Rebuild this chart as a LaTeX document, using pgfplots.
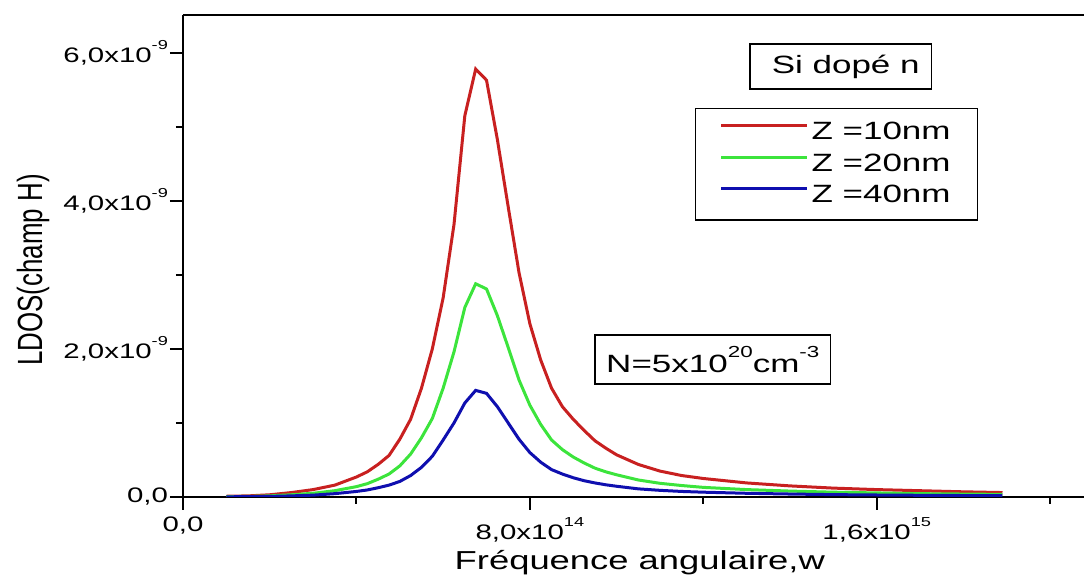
\documentclass[border=0pt]{standalone}
\usepackage{fontspec}
\setmainfont{Liberation Sans}[FakeStretch=1.4]
\newfontfamily\ylabfont{Liberation Sans}[FakeStretch=0.74]
\usepackage{pgfplots}
\usepackage{pgfplotstable}
\pgfplotsset{compat=1.18}
\definecolor{cred}{RGB}{200,32,32}
\definecolor{cgreen}{RGB}{60,228,60}
\definecolor{cblue}{RGB}{15,15,175}
\newcommand{\spt}[1]{\raisebox{0.62em}{\fontsize{6.5}{7}\selectfont #1}}
\newcommand{\spn}[1]{\raisebox{0.6em}{\fontsize{8}{9}\selectfont #1}}

% x in units of 1e14, y in units of 1e-9
\pgfplotstableread{
x     r      g      b
1.0   0.010  0.005  0.003
1.5   0.015  0.008  0.004
2.0   0.030  0.015  0.008
2.5   0.060  0.030  0.015
3.0   0.100  0.050  0.025
3.5   0.160  0.085  0.045
4.0   0.270  0.140  0.075
4.25  0.340  0.180  0.095
4.5   0.440  0.240  0.125
4.75  0.560  0.310  0.160
5.0   0.780  0.420  0.210
5.25  1.050  0.580  0.290
5.5   1.470  0.800  0.400
5.75  2.000  1.060  0.550
6.0   2.690  1.470  0.770
6.25  3.680  1.960  1.000
6.5   5.150  2.560  1.270
6.75  5.780  2.880  1.440
7.0   5.630  2.810  1.400
7.25  4.830  2.450  1.220
7.5   3.920  2.020  1.000
7.75  3.030  1.580  0.780
8.0   2.340  1.240  0.600
8.25  1.850  0.980  0.470
8.5   1.470  0.770  0.370
8.75  1.220  0.640  0.310
9.0   1.050  0.540  0.260
9.25  0.900  0.460  0.220
9.5   0.760  0.390  0.190
9.75  0.660  0.340  0.165
10.0  0.570  0.300  0.145
10.5  0.440  0.230  0.110
11.0  0.350  0.185  0.090
11.5  0.290  0.155  0.075
12.0  0.250  0.130  0.065
13.0  0.190  0.100  0.050
14.0  0.150  0.080  0.040
15.0  0.120  0.065  0.032
16.0  0.100  0.055  0.027
17.0  0.085  0.045  0.023
18.0  0.070  0.040  0.020
18.9  0.060  0.035  0.017
}\datatable

\begin{document}
\begin{tikzpicture}
\useasboundingbox (0,0) rectangle (542pt,289.5pt);
\begin{axis}[
  at={(91.5pt,41pt)}, anchor=south west,
  scale only axis, width=450.5pt, height=241pt,
  xmin=0, xmax=20.78, ymin=0, ymax=6.51,
  axis x line*=box, axis y line*=left,
  xtick pos=bottom, ytick pos=left,
  tick align=outside,
  xtick={0,8,16},
  xticklabels={{0,0},{8,0x10\spt{14}},{1,6x10\spt{15}}},
  minor xtick={4,12,20},
  ytick={0,2,4,6},
  yticklabels={{0,0},{2,0x10\spt{-9}},{4,0x10\spt{-9}},{6,0x10\spt{-9}}},
  minor ytick={1,3,5},
  major tick length=6.5pt, minor tick length=3.5pt,
  every tick/.style={black, line width=1pt},
  axis line style={black, line width=1.2pt},
  ticklabel style={font=\fontsize{10.5}{12}\selectfont},
  yticklabel style={xshift=2.5pt},
  xlabel={Fréquence angulaire,w},
  ylabel={LDOS(champ H)},
  xlabel style={at={(axis description cs:0.507,-0.136)}, anchor=center, font=\fontsize{13}{15}\selectfont},
  ylabel style={at={(axis description cs:-0.1665,0.471)}, anchor=center, font=\ylabfont\fontsize{17.5}{20}\selectfont},
  legend image code/.code={\draw[#1] (0pt,0.35em) -- (43pt,0.35em);},
  legend cell align=left,
  legend style={at={(axis description cs:0.568,0.8077)}, anchor=north west,
    draw=black, line width=0.8pt, font=\fontsize{12.5}{14}\selectfont,
    inner xsep=12pt, inner ysep=5pt, row sep=1.5pt,
    nodes={inner xsep=1.5pt}},
]
\addplot[cred, line width=1.5pt] table[x=x, y=r] {\datatable};
\addlegendentry{Z =10nm}
\addplot[cgreen, line width=1.5pt] table[x=x, y=g] {\datatable};
\addlegendentry{Z =20nm}
\addplot[cblue, line width=1.5pt] table[x=x, y=b] {\datatable};
\addlegendentry{Z =40nm}
\node[draw=black, line width=0.8pt, minimum width=90.85pt, minimum height=22.65pt, inner sep=0pt,
  font=\fontsize{12.5}{14}\selectfont] at (axis description cs:0.730,0.893) {\hspace*{5pt}Si dopé n};
\node[draw=black, line width=0.8pt, minimum width=117.85pt, minimum height=24.65pt, inner sep=0pt,
  font=\fontsize{12.5}{14}\selectfont] at (axis description cs:0.588,0.285) {N=5x10\spn{20}cm\spn{-3}};
\end{axis}
\end{tikzpicture}
\end{document}
